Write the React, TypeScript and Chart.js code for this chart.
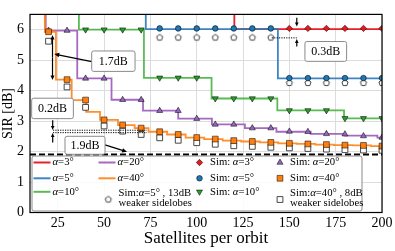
import React, { useEffect, useRef } from 'react';
import { Chart, registerables } from 'chart.js';

Chart.register(...registerables);

// ---------- axes ----------
const xTickValues = [25, 50, 75, 100, 125, 150, 175, 200];
const yTickValues = [0, 1, 2, 3, 4, 5, 6];

// ---------- asymptote ----------
const limitX = [10, 200];
const limitY = [1.9, 1.9];

// ---------- theory step curves (breakpoint x, level held until next breakpoint) ----------
const a3StepX = [10, 120.3, 200];
const a3StepY = [7.5, 6.02, 6.02];
const a5StepX = [10, 72.5, 143.8, 200];
const a5StepY = [7.5, 6.02, 4.4, 4.4];
const a10StepX = [10, 36.4, 71.5, 108, 143.5, 179.5, 200];
const a10StepY = [7.5, 6.0, 4.42, 3.74, 3.35, 3.09, 3.09];
const a20StepX = [10, 18.5, 35.5, 54, 71, 90, 108.2, 126, 143, 161.5, 180, 197.5, 200];
const a20StepY = [7.5, 5.97, 4.4, 3.7, 3.34, 3.08, 2.89, 2.77, 2.65, 2.58, 2.52, 2.46, 2.46];
const a40StepX = [10, 18, 24, 32.5, 40.3, 47.8, 57.5, 66.5, 74, 84, 94, 104, 114, 124, 134, 144, 154, 164, 174, 184, 194, 200];
const a40StepY = [7.5, 5.93, 4.36, 3.69, 3.3, 3.04, 2.87, 2.77, 2.65, 2.56, 2.46, 2.41, 2.36, 2.33, 2.3, 2.27, 2.25, 2.23, 2.21, 2.2, 2.18, 2.18];

// ---------- simulation markers ----------
const simX3 = [150, 160, 170, 180, 190, 200];
const simY3 = [6.04, 6.04, 6.04, 6.04, 6.04, 6.04];
const simX5 = [80, 90, 100, 110, 120, 130, 140, 150, 160, 170, 180, 190, 200];
const simY5 = [6.04, 6.04, 6.04, 6.04, 6.04, 6.04, 6.04, 4.41, 4.41, 4.41, 4.41, 4.41, 4.41];
const weak5Y = [5.74, 5.74, 5.74, 5.74, 5.74, 5.74, 5.74, 4.25, 4.25, 4.25, 4.25, 4.25, 4.25];
const simX10 = [40, 50, 60, 70, 80, 90, 100, 110, 120, 130, 140, 150, 160, 170, 180, 190, 200];
const simY10 = [6.0, 6.0, 6.0, 6.0, 4.42, 4.42, 4.42, 3.74, 3.74, 3.74, 3.74, 3.35, 3.35, 3.35, 3.09, 3.09, 3.09];
const simX20 = [20, 30, 40, 50, 60, 70, 80, 90, 100, 110, 120, 130, 140, 150, 160, 170, 180, 190, 200];
const simY20 = [5.97, 5.97, 4.4, 4.4, 3.7, 3.7, 3.34, 3.34, 3.08, 2.89, 2.89, 2.77, 2.77, 2.66, 2.65, 2.58, 2.57, 2.51, 2.46];
const simX40 = [20, 30, 40, 50, 60, 70, 80, 90, 100, 110, 120, 130, 140, 150, 160, 170, 180, 190, 200];
const simY40 = [5.93, 4.36, 3.69, 3.04, 2.87, 2.77, 2.65, 2.56, 2.46, 2.41, 2.36, 2.33, 2.3, 2.27, 2.25, 2.23, 2.21, 2.2, 2.18];
const weak40Y = [5.62, 4.12, 3.45, 2.84, 2.67, 2.56, 2.45, 2.37, 2.29, 2.24, 2.19, 2.17, 2.14, 2.12, 2.1, 2.08, 2.06, 2.05, 2.04];

// ---------- texts ----------
const lineLabels = ['α=3°', 'α=5°', 'α=10°', 'α=20°', 'α=40°'];
const simLabels = ['Sim: α=3°', 'Sim: α=5°', 'Sim: α=10°', 'Sim: α=20°', 'Sim: α=40°'];
const weak5Label = ['Sim:α=5° , 13dB', 'weaker sidelobes'];
const weak40Label = ['Sim:α=40° , 8dB', 'weaker sidelobes'];
const annotationTexts = ['1.7dB', '0.2dB', '1.9dB', '0.3dB'];
const xTitle = 'Satellites per orbit';
const yTitle = 'SIR [dB]';

const SERIF = '"Liberation Serif", "DejaVu Serif", serif';

const fills = ['#e41a1c', '#1f77b4', '#2ca02c', '#9467bd', '#ff7f0e'];
const lineCols = ['rgba(232,20,28,0.95)', 'rgba(40,120,190,0.9)', 'rgba(60,175,55,0.85)', 'rgba(155,90,185,0.9)', 'rgba(255,130,20,0.9)'];
const EDGE = 'rgba(0,0,0,0.75)';

const pts = (xs: number[], ys: number[]) => xs.map((x, i) => ({ x, y: ys[i] }));

function makePentagon(r: number) {
  const s = Math.ceil(r * 2 + 3);
  const c = document.createElement('canvas');
  c.width = s;
  c.height = s;
  const g = c.getContext('2d')!;
  g.beginPath();
  for (let i = 0; i < 5; i++) {
    const a = -Math.PI / 2 + (i * 2 * Math.PI) / 5;
    const px = s / 2 + r * Math.cos(a);
    const py = s / 2 + r * Math.sin(a);
    if (i) g.lineTo(px, py);
    else g.moveTo(px, py);
  }
  g.closePath();
  g.fillStyle = '#fff';
  g.fill();
  g.strokeStyle = '#333';
  g.lineWidth = 0.9;
  g.stroke();
  return c;
}

function drawRich(ctx: CanvasRenderingContext2D, x: number, y: number, text: string, size: number) {
  let cx = x;
  const parts = text.split(/(α)/);
  for (const p of parts) {
    if (!p) continue;
    ctx.font = `${p === 'α' ? 'italic ' : ''}${size}px ${SERIF}`;
    ctx.fillText(p, cx, y);
    cx += ctx.measureText(p).width;
  }
}

function arrow(ctx: CanvasRenderingContext2D, x1: number, y1: number, x2: number, y2: number, head = 4.5) {
  const a = Math.atan2(y2 - y1, x2 - x1);
  ctx.beginPath();
  ctx.moveTo(x1, y1);
  ctx.lineTo(x2 - Math.cos(a) * head * 0.8, y2 - Math.sin(a) * head * 0.8);
  ctx.stroke();
  const w = head * 0.45;
  ctx.beginPath();
  ctx.moveTo(x2, y2);
  ctx.lineTo(x2 - head * Math.cos(a) + w * Math.sin(a), y2 - head * Math.sin(a) - w * Math.cos(a));
  ctx.lineTo(x2 - head * Math.cos(a) - w * Math.sin(a), y2 - head * Math.sin(a) + w * Math.cos(a));
  ctx.closePath();
  ctx.fill();
}

function roundBox(ctx: CanvasRenderingContext2D, x: number, y: number, w: number, h: number, r: number, fill: string, stroke: string) {
  ctx.beginPath();
  ctx.moveTo(x + r, y);
  ctx.lineTo(x + w - r, y);
  ctx.arcTo(x + w, y, x + w, y + r, r);
  ctx.lineTo(x + w, y + h - r);
  ctx.arcTo(x + w, y + h, x + w - r, y + h, r);
  ctx.lineTo(x + r, y + h);
  ctx.arcTo(x, y + h, x, y + h - r, r);
  ctx.lineTo(x, y + r);
  ctx.arcTo(x, y, x + r, y, r);
  ctx.closePath();
  ctx.fillStyle = fill;
  ctx.fill();
  ctx.strokeStyle = stroke;
  ctx.lineWidth = 1;
  ctx.stroke();
}

function drawMarker(ctx: CanvasRenderingContext2D, kind: string, x: number, y: number, fill: string, pent?: HTMLCanvasElement) {
  ctx.save();
  ctx.fillStyle = fill;
  ctx.strokeStyle = EDGE;
  ctx.lineWidth = 0.7;
  ctx.beginPath();
  if (kind === 'diamond') {
    const r = 3.2;
    ctx.moveTo(x, y - r); ctx.lineTo(x + r, y); ctx.lineTo(x, y + r); ctx.lineTo(x - r, y); ctx.closePath();
  } else if (kind === 'circle') {
    ctx.arc(x, y, 2.8, 0, Math.PI * 2);
  } else if (kind === 'tri' || kind === 'triDown') {
    const r = 3.5;
    const s = kind === 'tri' ? 1 : -1;
    ctx.moveTo(x, y - s * r);
    ctx.lineTo(x + r * 0.866, y + s * r * 0.5);
    ctx.lineTo(x - r * 0.866, y + s * r * 0.5);
    ctx.closePath();
  } else if (kind === 'square' || kind === 'open') {
    const h = 2.9;
    ctx.rect(x - h, y - h, 2 * h, 2 * h);
    if (kind === 'open') { ctx.fillStyle = '#fff'; ctx.strokeStyle = '#333'; ctx.lineWidth = 0.9; }
  }
  if (kind === 'pent' && pent) {
    ctx.drawImage(pent, x - pent.width / 2, y - pent.height / 2);
  } else {
    ctx.fill();
    ctx.stroke();
  }
  ctx.restore();
}

export default function App() {
  const ref = useRef<HTMLCanvasElement | null>(null);

  useEffect(() => {
    const canvas = ref.current;
    if (!canvas) return;
    const pent = makePentagon(3.2);

    const lineDs = (data: { x: number; y: number }[], color: string, order: number) => ({
      data,
      borderColor: color,
      backgroundColor: color,
      borderWidth: 1.8,
      pointRadius: 0,
      stepped: true as const,
      fill: false,
      order,
      clip: 0,
    });
    const markDs = (data: { x: number; y: number }[], style: any, fill: string, edge: string, radius: number, order: number, rot = 0, bw = 0.7) => ({
      data,
      showLine: false,
      pointStyle: style,
      pointRotation: rot,
      pointRadius: radius,
      pointBackgroundColor: fill,
      pointBorderColor: edge,
      pointBorderWidth: bw,
      backgroundColor: fill,
      borderColor: edge,
      order,
    });

    const annotPlugin = {
      id: 'annot',
      afterDatasetsDraw(chart: any) {
        const ctx: CanvasRenderingContext2D = chart.ctx;
        const xs = chart.scales.x;
        const ys = chart.scales.y;
        const X = (v: number) => xs.getPixelForValue(v);
        const Y = (v: number) => ys.getPixelForValue(v);
        const ca = chart.chartArea;
        ctx.save();
        // frame
        ctx.strokeStyle = '#000';
        ctx.lineWidth = 1.2;
        ctx.strokeRect(ca.left, ca.top, ca.right - ca.left, ca.bottom - ca.top);

        ctx.fillStyle = '#000';
        ctx.strokeStyle = '#000';
        ctx.lineWidth = 1.2;
        // 1.7 dB double arrow
        const xa = X(22.15);
        arrow(ctx, xa, (Y(5.82) + Y(4.35)) / 2, xa, Y(5.82));
        arrow(ctx, xa, (Y(5.82) + Y(4.35)) / 2, xa, Y(4.35));
        arrow(ctx, X(43.3), Y(4.95), X(23.1), Y(5.2), 5);
        // 0.2 dB arrows
        arrow(ctx, X(22.25), Y(3.03), X(22.25), Y(2.71), 4);
        arrow(ctx, X(22.25), Y(2.3), X(22.25), Y(2.61), 4);
        // 1.9 dB pointer
        arrow(ctx, X(50.5), Y(2.22), X(62.4), Y(1.99), 5);
        // 0.3 dB arrows
        arrow(ctx, X(154), Y(6.39), X(154), Y(6.1), 4);
        arrow(ctx, X(154), Y(5.45), X(154), Y(5.69), 4);

        // dotted lines
        ctx.lineWidth = 1;
        ctx.setLineDash([1.2, 1.2]);
        ctx.beginPath();
        ctx.moveTo(X(22.4), Y(2.7)); ctx.lineTo(X(73.2), Y(2.7));
        ctx.moveTo(X(22.4), Y(2.62)); ctx.lineTo(X(73.2), Y(2.62));
        ctx.moveTo(X(140.5), Y(5.73)); ctx.lineTo(X(154), Y(5.73));
        ctx.stroke();
        ctx.setLineDash([]);

        // text boxes
        const boxes: [number, number, number, number, string][] = [
          [43.3, 66.7, 5.3, 4.63, annotationTexts[0]],
          [10.9, 33.4, 3.75, 3.08, annotationTexts[1]],
          [28.9, 50.5, 2.5, 1.91, annotationTexts[2]],
          [158.4, 180.9, 5.61, 4.96, annotationTexts[3]],
        ];
        for (const [x0, x1, y0, y1, t] of boxes) {
          const px0 = X(x0), px1 = X(x1), py0 = Y(y0), py1 = Y(y1);
          roundBox(ctx, px0, py0, px1 - px0, py1 - py0, 2, '#fff', '#8a8a8a');
          ctx.fillStyle = '#000';
          ctx.font = `12px ${SERIF}`;
          ctx.textAlign = 'center';
          ctx.textBaseline = 'middle';
          ctx.fillText(t, (px0 + px1) / 2, (py0 + py1) / 2 + 0.5);
        }

        // legend
        roundBox(ctx, 32, 156, 330, 55, 2, 'rgba(255,255,255,0.85)', '#8a8a8a');
        ctx.textAlign = 'left';
        ctx.textBaseline = 'middle';
        ctx.fillStyle = '#000';
        const rows = [162.5, 178.3, 191.8];
        const FS = 10.7;
        // theory lines
        const lineCols2 = [[33.5, 50.5, 52.5], [98.5, 115.5, 117.5]];
        for (let i = 0; i < 5; i++) {
          const c = i < 3 ? 0 : 1;
          const r = i < 3 ? i : i - 3;
          const [l0, l1, tx] = lineCols2[c];
          ctx.strokeStyle = lineCols[i];
          ctx.lineWidth = 2;
          ctx.beginPath();
          ctx.moveTo(l0, rows[r]);
          ctx.lineTo(l1, rows[r]);
          ctx.stroke();
          ctx.fillStyle = '#000';
          drawRich(ctx, tx, rows[r], lineLabels[i], FS);
        }
        // sim markers
        const kinds = ['diamond', 'circle', 'triDown', 'tri', 'square'];
        for (let i = 0; i < 5; i++) {
          const c = i < 3 ? [199.5, 210] : [280, 290];
          const r = i < 3 ? i : i - 3;
          drawMarker(ctx, kinds[i], c[0], rows[r], fills[i]);
          ctx.fillStyle = '#000';
          drawRich(ctx, c[1], rows[r], simLabels[i], FS);
        }
        drawMarker(ctx, 'pent', 108.3, 199.5, '#fff', pent);
        drawRich(ctx, 118.5, 192.7, weak5Label[0], FS);
        drawRich(ctx, 118.5, 203.3, weak5Label[1], FS);
        drawMarker(ctx, 'open', 280, 199.5, '#fff');
        drawRich(ctx, 290, 192.7, weak40Label[0], FS);
        drawRich(ctx, 290, 203.3, weak40Label[1], FS);
        ctx.restore();
      },
    };

    const chart = new Chart(canvas, {
      type: 'line',
      data: {
        datasets: [
          {
            data: pts(limitX, limitY),
            borderColor: '#000',
            borderWidth: 2,
            borderDash: [6, 3],
            pointRadius: 0,
            fill: false,
            order: 30,
            clip: 0,
          } as any,
          lineDs(pts(a3StepX, a3StepY), lineCols[0], 26),
          lineDs(pts(a5StepX, a5StepY), lineCols[1], 25),
          lineDs(pts(a10StepX, a10StepY), lineCols[2], 24),
          lineDs(pts(a20StepX, a20StepY), lineCols[3], 23),
          lineDs(pts(a40StepX, a40StepY), lineCols[4], 22),
          markDs(pts(simX5, weak5Y), pent, '#fff', '#333', 3, 12),
          markDs(pts(simX40, weak40Y), 'rect', '#fff', '#333', 4.1, 11, 0, 0.9),
          markDs(pts(simX3, simY3), 'rectRot', fills[0], EDGE, 3.2, 10),
          markDs(pts(simX5, simY5), 'circle', fills[1], EDGE, 2.8, 9),
          markDs(pts(simX10, simY10), 'triangle', fills[2], EDGE, 3.5, 8, 180),
          markDs(pts(simX20, simY20), 'triangle', fills[3], EDGE, 3.5, 7),
          markDs(pts(simX40, simY40), 'rect', fills[4], EDGE, 4.1, 6),
        ] as any,
      },
      options: {
        responsive: false,
        devicePixelRatio: 1,
        animation: false,
        events: [],
        layout: { padding: { top: 3, right: 13, left: 0, bottom: 0 } },
        plugins: { legend: { display: false }, tooltip: { enabled: false }, title: { display: false } },
        scales: {
          x: {
            type: 'linear',
            min: 10,
            max: 200,
            afterBuildTicks: (s: any) => { s.ticks = xTickValues.map((v) => ({ value: v })); },
            afterFit: (s: any) => { s.height = 38.5; },
            grid: { color: '#dcdcdc', lineWidth: 1, drawTicks: false },
            border: { display: false },
            ticks: { color: '#000', padding: 2, maxRotation: 0, font: { family: SERIF, size: 14 } },
            title: { display: true, text: xTitle, color: '#000', font: { family: SERIF, size: 17 }, padding: { top: 0, bottom: 2.5 } },
          },
          y: {
            type: 'linear',
            min: 0,
            max: 6.5,
            afterBuildTicks: (s: any) => { s.ticks = yTickValues.map((v) => ({ value: v })); },
            afterFit: (s: any) => { s.width = 30; },
            grid: { color: '#dcdcdc', lineWidth: 1, drawTicks: false },
            border: { display: false },
            ticks: { color: '#000', padding: 6, font: { family: SERIF, size: 14 } },
            title: { display: true, text: yTitle, color: '#000', font: { family: SERIF, size: 14 }, padding: { top: 0, bottom: 0 } },
          },
        },
      },
      plugins: [annotPlugin],
    } as any);

    return () => chart.destroy();
  }, []);

  return (
    <div style={{ position: 'fixed', left: 0, top: 0, width: 395, height: 251, background: '#fff' }}>
      <canvas ref={ref} width={395} height={251} style={{ width: 395, height: 251, display: 'block' }} />
    </div>
  );
}
